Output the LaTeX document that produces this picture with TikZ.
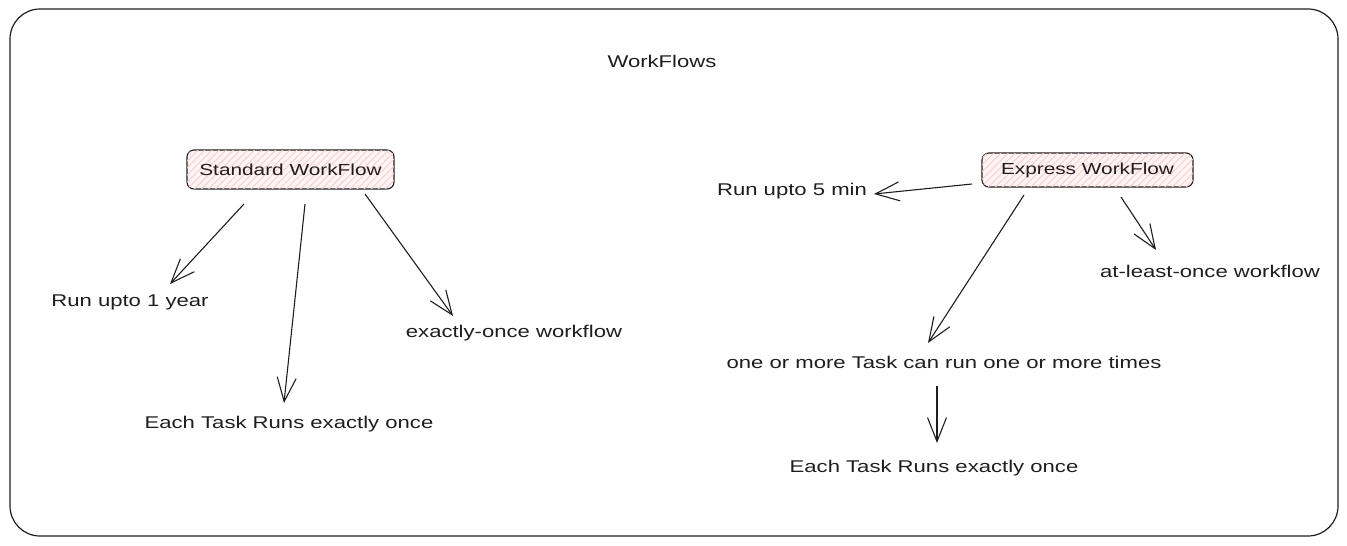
\documentclass[tikz,border=0pt]{standalone}
\usepackage{fontspec}
\setmainfont{Liberation Sans}[FakeStretch=1.3]
\usetikzlibrary{arrows.meta,patterns.meta}
\definecolor{ink}{HTML}{1E1E1E}
\definecolor{hatch}{HTML}{FFC9C9}
\definecolor{bgpink}{HTML}{FFF5F5}
\tikzset{
  x=1pt,y=-1pt,
  every node/.style={font=\fontsize{17}{20}\selectfont, text=ink},
  lbl/.style={inner sep=0pt, anchor=center},
  wfbox/.style={draw=ink, line width=1.1pt, rounded corners=7pt, fill=bgpink,
    postaction={pattern={Lines[angle=45,distance=5pt,line width=0.9pt]}, pattern color=hatch},
    minimum height=39pt, inner xsep=8pt, font=\fontsize{16}{19}\selectfont},
  arr/.style={draw=ink, line width=1.1pt, -{Straight Barb[length=24pt,width=19pt,line width=1.1pt]}}
}
\begin{document}
\begin{tikzpicture}
\useasboundingbox (0,0) rectangle (1347,546);
\draw[ink, line width=1.2pt, rounded corners=30pt] (10,9) rectangle (1338,536);

\node[lbl] (title) at (662,61) {WorkFlows};

\node[wfbox, minimum width=207pt] (std) at (290.5,169.5) {Standard WorkFlow};
\node[wfbox, minimum width=211pt, minimum height=34pt] (exp) at (1087.5,170) {Express WorkFlow};

\node[lbl] (r1y) at (130,302) {Run upto 1 year};
\node[lbl] (eto1) at (289,424) {Each Task Runs exactly once};
\node[lbl] (exo) at (514,333) {exactly-once workflow};

\node[lbl] (r5m) at (792,191) {Run upto 5 min};
\node[lbl] (alo) at (1210,271) {at-least-once workflow};
\node[lbl] (oom) at (944,362) {one or more Task can run one or more times};
\node[lbl] (eto2) at (934,468) {Each Task Runs exactly once};

% connector end points
\coordinate (s1) at (244,204); \coordinate (t1) at (170,284);
\coordinate (s2) at (305,204); \coordinate (t2) at (284,403);
\coordinate (s3) at (365,194); \coordinate (t3) at (453,316);
\coordinate (e1) at (972,184); \coordinate (u1) at (874,194);
\coordinate (e2) at (1024,195); \coordinate (u2) at (928,343);
\coordinate (e3) at (1121,197); \coordinate (u3) at (1156,250);
\coordinate (e4) at (937,386); \coordinate (u4) at (937,443);

\draw[arr] (s1) -- (t1);
\draw[arr] (s2) -- (t2);
\draw[arr] (s3) -- (t3);
\draw[arr] (e1) -- (u1);
\draw[arr] (e2) -- (u2);
\draw[arr] (e3) -- (u3);
\draw[arr] (e4) -- (u4);
\end{tikzpicture}
\end{document}
